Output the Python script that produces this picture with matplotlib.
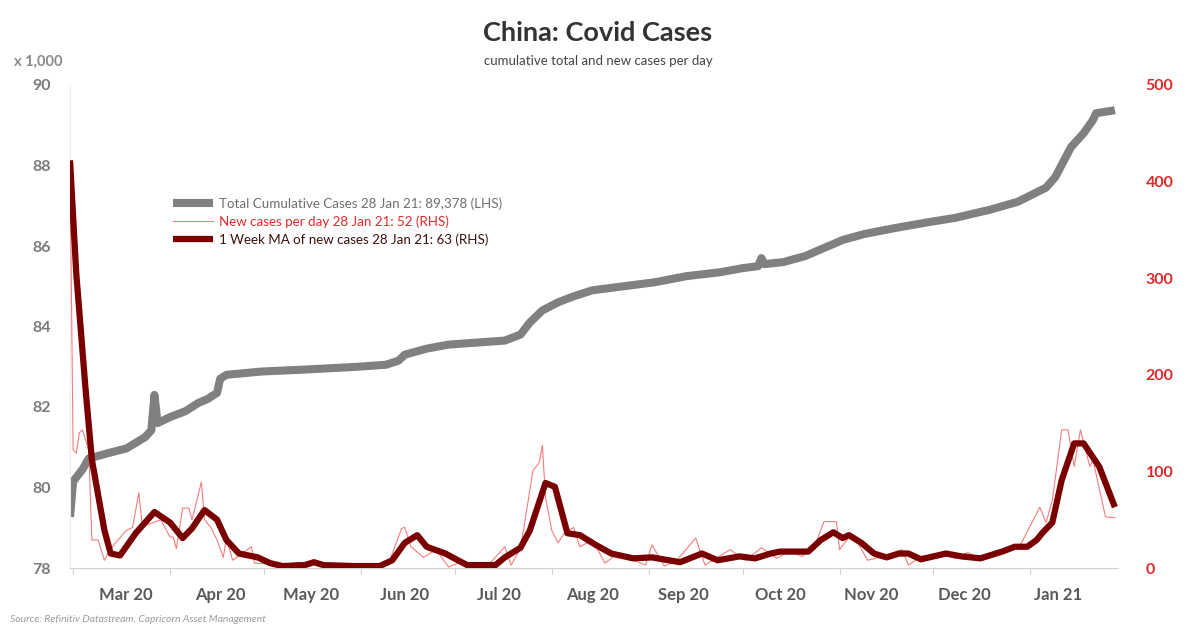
import numpy as np
import pandas as pd
import matplotlib
matplotlib.use("Agg")
import matplotlib.pyplot as plt
import matplotlib.dates as mdates

plt.rcParams['font.family'] = ['Lato', 'DejaVu Sans']

## total cumulative cases (thousands), LHS
cum_dates = ['2020-02-29', '2020-03-01', '2020-03-04', '2020-03-06', '2020-03-12', '2020-03-18',
             '2020-03-24', '2020-03-26', '2020-03-27', '2020-03-28', '2020-04-01', '2020-04-06',
             '2020-04-10', '2020-04-13', '2020-04-16', '2020-04-17', '2020-04-19', '2020-04-30',
             '2020-05-14', '2020-05-31', '2020-06-09', '2020-06-13', '2020-06-15', '2020-06-22',
             '2020-06-29', '2020-07-08', '2020-07-17', '2020-07-22', '2020-07-25', '2020-07-29',
             '2020-08-03', '2020-08-08', '2020-08-14', '2020-08-24', '2020-09-03', '2020-09-13',
             '2020-09-24', '2020-10-01', '2020-10-06', '2020-10-07', '2020-10-08', '2020-10-14',
             '2020-10-21', '2020-10-27', '2020-11-02', '2020-11-09', '2020-11-19', '2020-11-30',
             '2020-12-08', '2020-12-19', '2020-12-28', '2021-01-06', '2021-01-09', '2021-01-14',
             '2021-01-18', '2021-01-21', '2021-01-22', '2021-01-27', '2021-01-28']
cum_vals = [79.27, 80.15, 80.45, 80.72, 80.85, 80.97,
            81.25, 81.42, 82.3, 81.6, 81.75, 81.9,
            82.1, 82.2, 82.35, 82.7, 82.8, 82.88,
            82.93, 83.0, 83.05, 83.15, 83.3, 83.45,
            83.55, 83.6, 83.65, 83.8, 84.1, 84.4,
            84.6, 84.75, 84.9, 85.0, 85.1, 85.25,
            85.35, 85.45, 85.5, 85.7, 85.55, 85.6,
            85.75, 85.95, 86.15, 86.3, 86.45, 86.6,
            86.7, 86.9, 87.1, 87.45, 87.72, 88.46,
            88.8, 89.13, 89.3, 89.36, 89.378]

## new cases per day, RHS
new_dates = ['2020-02-29', '2020-03-01', '2020-03-02', '2020-03-03', '2020-03-04', '2020-03-06',
             '2020-03-07', '2020-03-09', '2020-03-11', '2020-03-13', '2020-03-18', '2020-03-20',
             '2020-03-22', '2020-03-23', '2020-03-25', '2020-03-29', '2020-04-01', '2020-04-02',
             '2020-04-03', '2020-04-05', '2020-04-07', '2020-04-08', '2020-04-11', '2020-04-12',
             '2020-04-14', '2020-04-16', '2020-04-18', '2020-04-19', '2020-04-21', '2020-04-27',
             '2020-04-28', '2020-05-03', '2020-05-07', '2020-05-12', '2020-05-15', '2020-05-17',
             '2020-05-20', '2020-05-25', '2020-05-30', '2020-06-05', '2020-06-10', '2020-06-14',
             '2020-06-15', '2020-06-17', '2020-06-21', '2020-06-25', '2020-06-29', '2020-07-02',
             '2020-07-08', '2020-07-12', '2020-07-17', '2020-07-19', '2020-07-22', '2020-07-26',
             '2020-07-28', '2020-07-29', '2020-07-30', '2020-08-01', '2020-08-03', '2020-08-05',
             '2020-08-08', '2020-08-10', '2020-08-14', '2020-08-18', '2020-08-22', '2020-08-31',
             '2020-09-02', '2020-09-06', '2020-09-10', '2020-09-16', '2020-09-19', '2020-09-27',
             '2020-10-02', '2020-10-07', '2020-10-12', '2020-10-16', '2020-10-20', '2020-10-24',
             '2020-10-27', '2020-10-31', '2020-11-01', '2020-11-04', '2020-11-07', '2020-11-10',
             '2020-11-15', '2020-11-21', '2020-11-23', '2020-11-27', '2020-12-03', '2020-12-08',
             '2020-12-12', '2020-12-17', '2020-12-21', '2020-12-25', '2020-12-29', '2021-01-04',
             '2021-01-06', '2021-01-08', '2021-01-11', '2021-01-13', '2021-01-15', '2021-01-17',
             '2021-01-20', '2021-01-21', '2021-01-25', '2021-01-28']
new_vals = [420, 122, 119, 140, 143, 122,
            29, 29, 8, 20, 39, 42,
            78, 47, 45, 50, 32, 32,
            20, 62, 62, 50, 89, 50,
            42, 29, 11, 31, 8, 22,
            5, 4, 2, 6, 3, 7,
            2, 4, 1, 3, 6, 41,
            42, 22, 11, 19, 1, 5,
            3, 4, 22, 3, 20, 101,
            109, 127, 73, 39, 26, 36,
            42, 22, 29, 5, 15, 3,
            24, 2, 8, 31, 3, 19,
            8, 21, 10, 18, 12, 22,
            48, 48, 19, 32, 25, 8,
            12, 19, 3, 12, 15, 10,
            16, 8, 18, 20, 25, 63,
            47, 70, 143, 143, 105, 143,
            105, 112, 53, 52]

## 1 week moving average of new cases, RHS
ma_dates = ['2020-02-29', '2020-03-02', '2020-03-05', '2020-03-07', '2020-03-11', '2020-03-13',
            '2020-03-16', '2020-03-21', '2020-03-27', '2020-04-01', '2020-04-05', '2020-04-08',
            '2020-04-12', '2020-04-16', '2020-04-19', '2020-04-23', '2020-04-29', '2020-05-03',
            '2020-05-07', '2020-05-14', '2020-05-17', '2020-05-20', '2020-05-30', '2020-06-07',
            '2020-06-11', '2020-06-15', '2020-06-19', '2020-06-22', '2020-06-28', '2020-07-02',
            '2020-07-05', '2020-07-14', '2020-07-17', '2020-07-22', '2020-07-25', '2020-07-30',
            '2020-08-02', '2020-08-06', '2020-08-10', '2020-08-15', '2020-08-20', '2020-08-27',
            '2020-09-02', '2020-09-11', '2020-09-18', '2020-09-23', '2020-09-30', '2020-10-05',
            '2020-10-10', '2020-10-13', '2020-10-22', '2020-10-26', '2020-10-30', '2020-11-02',
            '2020-11-04', '2020-11-08', '2020-11-12', '2020-11-16', '2020-11-20', '2020-11-23',
            '2020-11-27', '2020-12-05', '2020-12-10', '2020-12-16', '2020-12-23', '2020-12-27',
            '2020-12-31', '2021-01-03', '2021-01-05', '2021-01-08', '2021-01-11', '2021-01-15',
            '2021-01-18', '2021-01-23', '2021-01-28']
ma_vals = [422, 305, 184, 112, 39, 15,
           13, 36, 58, 47, 31, 41,
           60, 50, 29, 15, 11, 5,
           2, 3, 6, 3, 2, 2,
           8, 26, 34, 22, 15, 8,
           3, 3, 11, 21, 39, 88,
           84, 36, 34, 24, 15, 10,
           11, 6, 15, 8, 12, 10,
           15, 17, 17, 29, 37, 31,
           34, 26, 15, 11, 15, 15,
           9, 15, 12, 10, 17, 22,
           22, 29, 37, 47, 91, 129,
           129, 105, 63]

month_labels = ['Mar 20', 'Apr 20', 'May 20', 'Jun 20', 'Jul 20', 'Aug 20',
                'Sep 20', 'Oct 20', 'Nov 20', 'Dec 20', 'Jan 21']
## where the month labels sit on the date axis
label_dates = ['2020-03-18', '2020-04-17', '2020-05-16', '2020-06-15', '2020-07-15', '2020-08-14',
               '2020-09-12', '2020-10-13', '2020-11-11', '2020-12-11', '2021-01-10']

gray = '#808080'
red_thin = '#f25c5c'
red_dark = '#7a0000'

fig = plt.figure(figsize=(11.87, 6.24), dpi=100)
ax = fig.add_axes([70/1187, 1-568/624, 1048/1187, 483/624])
ax2 = ax.twinx()

ax.plot(pd.to_datetime(cum_dates), cum_vals, color=gray, lw=5.8, solid_capstyle='butt',
        label='Total Cumulative Cases 28 Jan 21: 89,378 (LHS)')
ax2.plot(pd.to_datetime(new_dates), new_vals, color=red_thin, lw=0.8, alpha=0.8,
         label='New cases per day 28 Jan 21: 52 (RHS)')
ax2.plot(pd.to_datetime(ma_dates), ma_vals, color=red_dark, lw=4.5, solid_capstyle='butt',
         solid_joinstyle='round', label='1 Week MA of new cases 28 Jan 21: 63 (RHS)')

ax.set_xlim(pd.Timestamp('2020-02-29'), pd.Timestamp('2021-01-29'))
ax.set_ylim(78, 90)
ax2.set_ylim(0, 500)
ax.set_yticks(np.arange(78, 91, 2))
ax2.set_yticks(np.arange(0, 501, 100))

ax.xaxis.set_major_locator(mdates.MonthLocator())
ax.xaxis.set_major_formatter(plt.NullFormatter())
ax.set_xticks(pd.to_datetime(label_dates), minor=True)
ax.set_xticklabels(month_labels, minor=True)
ax.tick_params(axis='x', which='major', length=4, color='#d0d0d0', width=0.8)
ax.tick_params(axis='x', which='minor', length=0, pad=14, labelsize=12, labelcolor='#595959')
for t in ax.get_xticklabels(minor=True):
    t.set_fontweight('bold')

ax.tick_params(axis='y', length=0, pad=14, labelsize=11.5, labelcolor='#7a7a7a')
ax2.tick_params(axis='y', length=0, pad=20, labelsize=11.5, labelcolor='#e02a2a')
for t in ax2.get_yticklabels():
    t.set_fontweight('bold')
for t in ax.get_yticklabels():
    t.set_fontweight('bold')

for a in (ax, ax2):
    for s in ['top', 'right', 'left', 'bottom']:
        a.spines[s].set_visible(False)
ax.spines['bottom'].set_visible(True)
ax.spines['bottom'].set_color('#d0d0d0')
ax.spines['left'].set_visible(True)
ax.spines['left'].set_color('#eeeeee')

fig.text(598/1187, 1-33/624, 'China: Covid Cases', ha='center', va='center',
         fontsize=19.5, fontweight='bold', color='#333333')
fig.text(598/1187, 1-61/624, 'cumulative total and new cases per day', ha='center', va='center',
         fontsize=9.5, color='#444444')
fig.text(38/1187, 1-62/624, 'x 1,000', ha='center', va='center', fontsize=10.5,
         color='#8a8a8a', fontweight='bold')
fig.text(10/1187, 1-619/624, 'Source: Refinitiv Datastream, Capricorn Asset Management',
         ha='left', va='center', fontsize=7.5, style='italic', color='#9a9a9a')

h1, l1 = ax.get_legend_handles_labels()
h2, l2 = ax2.get_legend_handles_labels()
leg = fig.legend(h1 + h2, l1 + l2, loc='upper left', bbox_to_anchor=(168/1187, 1-192/624),
                 frameon=False, fontsize=9.6, handlelength=3.0, handletextpad=0.45,
                 labelspacing=0.4, borderaxespad=0,
                 labelcolor=['#6e6e6e', '#e02a2a', '#3a1010'])

fig.savefig('out.png', dpi=100)
